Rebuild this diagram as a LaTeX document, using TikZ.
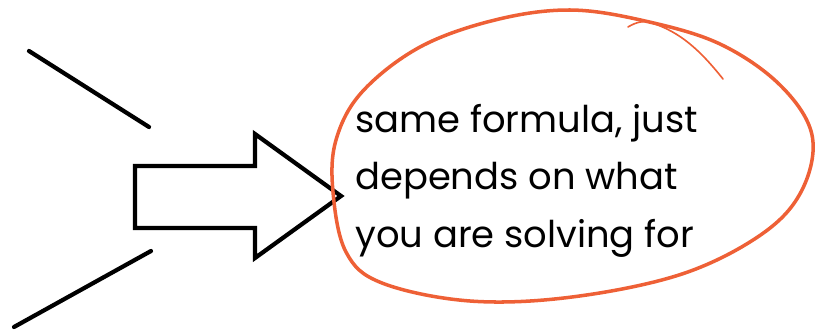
\documentclass[tikz,border=0pt]{standalone}
\usepackage{fontspec}
\setmainfont{Poppins}
\usepackage{tikz}
\usetikzlibrary{positioning}
\definecolor{inkred}{RGB}{238,96,54}

\begin{document}
\begin{tikzpicture}[x=0.3mm,y=-0.3mm,
  stroke/.style={line width=3.6pt, black, line cap=round},
  blockarrow/.style={line width=3.6pt, black, line join=miter},
  loop/.style={line width=3pt, inkred, line cap=round},
  note/.style={inner sep=0pt, align=left, anchor=north west,
               font=\fontsize{31.5}{49}\selectfont},
]
\useasboundingbox (0,0) rectangle (822,331);

% the two strokes on the left
\coordinate (up1) at (29,51);
\coordinate (up2) at (149,127);
\coordinate (lo1) at (151,251);
\coordinate (lo2) at (14,327);
\draw[stroke] (up1) -- (up2);
\draw[stroke] (lo1) -- (lo2);

% hollow block arrow
\draw[blockarrow] (135,166) -- (255,166) -- (255,134) -- (341,196)
  -- (255,258) -- (255,228) -- (135,228) -- cycle;

% the note
\node[note] (txt) at (355,104)
  {same formula, just\\depends on what\\you are solving for};

% hand drawn ring round the note
\draw[loop] plot[smooth cycle, tension=0.6] coordinates {
  (570,10) (645,21) (720,44) (780,85) (812,135) (802,190) (762,234)
  (682,274) (572,297) (470,301) (382,283) (346,252) (333,192)
  (336,140) (362,92) (420,47) (495,20)};
\draw[loop, line width=1.4pt] (628,27) .. controls (636,22) and (645,20) .. (652,23)
  .. controls (680,32) and (700,50) .. (723,79);
\end{tikzpicture}
\end{document}
